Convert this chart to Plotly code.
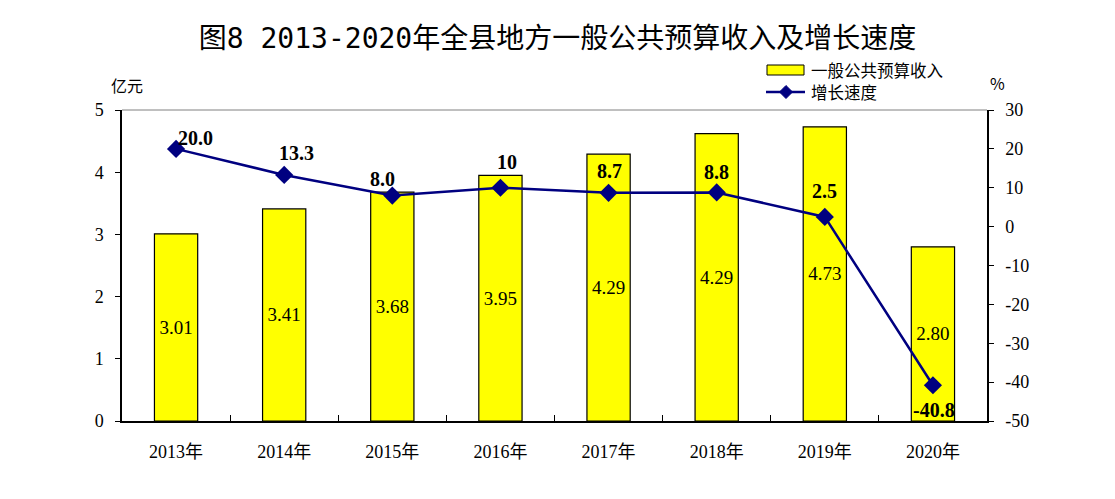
import plotly.graph_objects as go

years = ["2013年", "2014年", "2015年", "2016年", "2017年", "2018年", "2019年", "2020年"]
revenue = [3.01, 3.41, 3.68, 3.95, 4.29, 4.62, 4.73, 2.80]
revenue_labels = ["3.01", "3.41", "3.68", "3.95", "4.29", "4.29", "4.73", "2.80"]
growth = [20.0, 13.3, 8.0, 10.0, 8.7, 8.8, 2.5, -40.8]
growth_labels = ["20.0", "13.3", "8.0", "10", "8.7", "8.8", "2.5", "-40.8"]
left_ticks = [0, 1, 2, 3, 4, 5]
right_ticks = [30, 20, 10, 0, -10, -20, -30, -40, -50]
right_tick_text = ["30", "20", "10", "0", "-10", "-20", "-30", "-40", "-50"]

# label offsets (pixels) for the growth-rate labels
lab_dx = [19, 12, -10, 7, 1, 0, 0, 1]
lab_dy = [11, 22, 17, 26, 22, 20, 26, -25]

W, H = 1115, 499
L, R, T, B = 122, 987, 110, 421

def px(x):
    return (x - L) / (R - L)

def py(y):
    return (B - y) / (B - T)

serif = "Liberation Serif, Noto Sans CJK SC, serif"
sans = "Noto Sans CJK SC, sans-serif"
navy = "#000080"

fig = go.Figure()
fig.add_trace(go.Bar(
    x=years, y=revenue, text=revenue_labels, textposition="inside",
    insidetextanchor="middle", textangle=0, constraintext="none",
    textfont=dict(family=serif, size=19, color="black"),
    marker=dict(color="#FFFF00", line=dict(color="black", width=1.2)),
    width=0.4, showlegend=False, cliponaxis=False, hoverinfo="skip",
))
fig.add_trace(go.Scatter(
    x=years, y=growth, yaxis="y2", mode="lines+markers",
    line=dict(color=navy, width=2.5),
    marker=dict(symbol="diamond", size=14, color=navy),
    showlegend=False, cliponaxis=False, hoverinfo="skip",
))

annotations = []
for yr, g, t, dx, dy in zip(years, growth, growth_labels, lab_dx, lab_dy):
    annotations.append(dict(
        x=yr, y=g, xref="x", yref="y2", text="<b>%s</b>" % t, showarrow=False,
        xshift=dx, yshift=dy, font=dict(family=serif, size=20, color="black"),
    ))

annotations += [
    dict(x=px(127), y=py(85), xref="paper", yref="paper", text="亿元", showarrow=False,
         font=dict(family=sans, size=16, color="black"), xanchor="center", yanchor="middle"),
    dict(x=px(997), y=py(83), xref="paper", yref="paper", text="%", showarrow=False,
         font=dict(family=sans, size=16, color="black"), xanchor="center", yanchor="middle"),
    dict(x=px(809), y=py(70), xref="paper", yref="paper", text="一般公共预算收入", showarrow=False,
         font=dict(family=sans, size=16.5, color="black"), xanchor="left", yanchor="middle"),
    dict(x=px(809), y=py(92), xref="paper", yref="paper", text="增长速度", showarrow=False,
         font=dict(family=sans, size=16.5, color="black"), xanchor="left", yanchor="middle"),
]

cx, cy, r = 786, 92, 6.5
diamond = "M %f %f L %f %f L %f %f L %f %f Z" % (
    px(cx), py(cy - r), px(cx + r), py(cy), px(cx), py(cy + r), px(cx - r), py(cy))

shapes = [
    dict(type="line", xref="paper", yref="paper", x0=0, x1=1, y0=1, y1=1,
         line=dict(color="#808080", width=1)),
    dict(type="rect", xref="paper", yref="paper", x0=px(767), x1=px(804), y0=py(75), y1=py(65),
         fillcolor="#FFFF00", line=dict(color="black", width=1)),
    dict(type="line", xref="paper", yref="paper", x0=px(766), x1=px(805), y0=py(92), y1=py(92),
         line=dict(color=navy, width=2.5)),
    dict(type="path", xref="paper", yref="paper", path=diamond,
         fillcolor=navy, line=dict(color=navy, width=1)),
]

fig.update_layout(
    width=W, height=H,
    margin=dict(l=L, r=W - R, t=T, b=H - B, pad=0),
    paper_bgcolor="white", plot_bgcolor="white",
    title=dict(text="图8 2013-2020年全县地方一般公共预算收入及增长速度",
               x=0.5, xanchor="center", y=1 - 38 / H, yanchor="middle",
               font=dict(family="DejaVu Sans Mono, Noto Sans CJK SC, monospace", size=28,
                         color="black")),
    bargap=0.6,
    xaxis=dict(type="category", range=[-0.5, 7.5], showline=True, linecolor="black", linewidth=1.5,
               ticks="inside", tickson="boundaries", ticklen=6, tickcolor="black",
               tickfont=dict(family=serif, size=18, color="black"), ticklabelstandoff=14,
               showgrid=False, zeroline=False),
    yaxis=dict(range=[0, 5], tickvals=left_ticks, showline=True, linecolor="black", linewidth=1.5,
               ticks="outside", ticklen=5, tickcolor="black", showgrid=False, zeroline=False,
               tickfont=dict(family=serif, size=18, color="black"), ticklabelstandoff=8),
    yaxis2=dict(range=[-50, 30], tickvals=right_ticks, ticktext=right_tick_text,
                overlaying="y", side="right", showline=True,
                linecolor="black", linewidth=1.5, ticks="outside", ticklen=5, tickcolor="black",
                showgrid=False, zeroline=False,
                tickfont=dict(family=serif, size=18, color="black"), ticklabelstandoff=8),
    annotations=annotations, shapes=shapes, showlegend=False,
)

fig.write_html("out.html", config={"displayModeBar": False},
               post_script="document.body.style.margin='0';")
